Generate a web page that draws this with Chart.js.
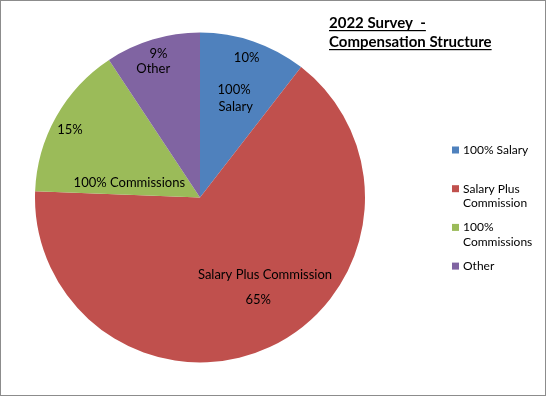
<!DOCTYPE html>
<html>
<head>
<meta charset="utf-8">
<script src="https://cdn.jsdelivr.net/npm/chart.js@4/dist/chart.umd.min.js"></script>
<style>
  html, body { margin: 0; padding: 0; background: #fff; }
  #wrap { width: 546px; height: 396px; position: relative; }
</style>
</head>
<body>
<div id="wrap"><canvas id="c" width="546" height="396"></canvas></div>
<script>
// ---- data ----
const categories = ['100% Salary', 'Salary Plus Commission', '100% Commissions', 'Other'];
const shares = [10.5, 65.1, 15.1, 9.3];          // slice sizes as drawn
const percentLabels = ['10%', '65%', '15%', '9%']; // printed data labels
const sliceColors = ['#4F81BD', '#C0504D', '#9BBB59', '#8064A2'];
const titleLines = ['2022 Survey  -', 'Compensation Structure'];

// label placement: slice index, text, angle from top (deg, clockwise), radius fraction
const labelSpots = [
  { i: 0, text: percentLabels[0], a: 18.5, r: 0.890 },
  { i: 0, text: '100%', a: 17.6, r: 0.683 },
  { i: 0, text: 'Salary', a: 21.6, r: 0.588 },
  { i: 1, text: categories[1], a: 140.0, r: 0.613 },
  { i: 1, text: percentLabels[1], a: 150.4, r: 0.715 },
  { i: 2, text: percentLabels[2], a: 297.4, r: 0.888 },
  { i: 2, text: categories[2], a: 281.4, r: 0.437 },
  { i: 3, text: percentLabels[3], a: 343.8, r: 0.904 },
  { i: 3, text: categories[3], a: 340.0, r: 0.829 }
];

const FONT = 'Lato, "Open Sans", sans-serif';

function wrapText(ctx, text, maxW) {
  const words = text.split(' ');
  const lines = [];
  let cur = '';
  for (const w of words) {
    const t = cur ? cur + ' ' + w : w;
    if (ctx.measureText(t).width > maxW && cur) { lines.push(cur); cur = w; }
    else cur = t;
  }
  if (cur) lines.push(cur);
  return lines;
}

const decor = {
  id: 'decor',
  afterDatasetsDraw(chart) {
    const ctx = chart.ctx;
    const meta = chart.getDatasetMeta(0);
    ctx.save();
    // data labels
    ctx.fillStyle = '#000';
    ctx.font = '13px ' + FONT;
    ctx.textAlign = 'center';
    ctx.textBaseline = 'middle';
    for (const s of labelSpots) {
      const arc = meta.data[s.i];
      const R = arc.outerRadius;
      const rad = s.a * Math.PI / 180;
      ctx.fillText(s.text, arc.x + s.r * R * Math.sin(rad), arc.y - s.r * R * Math.cos(rad));
    }
    // legend
    ctx.textAlign = 'left';
    ctx.font = '12px ' + FONT;
    const lx = 452, ly0 = 150, step = 38.7, lh = 14.5;
    categories.forEach((cat, i) => {
      const y = ly0 + i * step;
      ctx.fillStyle = sliceColors[i];
      ctx.fillRect(lx, y - 3.5, 7, 7);
      ctx.fillStyle = '#000';
      const lines = wrapText(ctx, cat, 74);
      lines.forEach((ln, k) => ctx.fillText(ln, lx + 11, y + k * lh));
    });
    // title
    ctx.font = 'bold 15px ' + FONT;
    ctx.textBaseline = 'alphabetic';
    const tx = 329;
    const tys = [28, 47];
    titleLines.forEach((t, k) => {
      ctx.fillStyle = '#000';
      ctx.fillText(t, tx, tys[k]);
      const w = ctx.measureText(t).width;
      ctx.fillRect(tx, tys[k] + 2, w, 1.2);
    });
    // border
    ctx.strokeStyle = '#8C8C8C';
    ctx.lineWidth = 1;
    ctx.strokeRect(0.5, 0.5, chart.width - 1, chart.height - 1);
    ctx.restore();
  }
};

new Chart(document.getElementById('c'), {
  type: 'pie',
  data: {
    labels: categories,
    datasets: [{
      data: shares,
      backgroundColor: sliceColors,
      borderWidth: 0
    }]
  },
  options: {
    responsive: false,
    animation: false,
    layout: { padding: { left: 35, right: 181, top: 32, bottom: 33 } },
    plugins: {
      legend: { display: false },
      title: { display: false },
      tooltip: { enabled: false }
    }
  },
  plugins: [decor]
});
</script>
</body>
</html>
